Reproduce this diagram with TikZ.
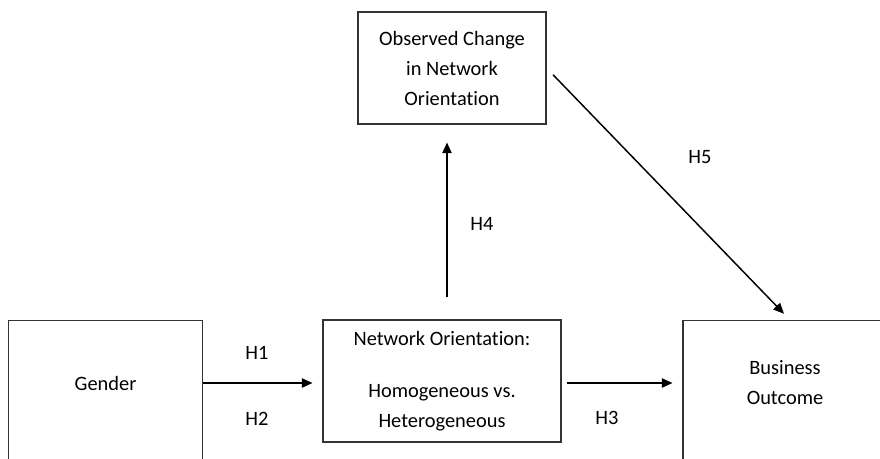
\documentclass[tikz,border=0pt]{standalone}
\usepackage{fontspec}
\setmainfont{Carlito}[Ligatures=NoCommon]
\usepackage{tikz}
\usetikzlibrary{arrows.meta}
\tikzset{
  quadro/.style={draw=black!80, line width=0.8pt, align=center, inner sep=0pt, minimum width=#1},
  quadro/.default=140pt,
  texto/.style={align=center, font=\fontsize{15.3pt}{22.5pt}\selectfont},
  flecha/.style={-{Triangle[length=8pt, width=7pt]}, line width=1.1pt},
}

\begin{document}
\begin{tikzpicture}[x=0.75pt, y=-0.75pt]
  \clip (0,0) rectangle (880,458);
  \node[quadro=146pt, minimum height=128pt, anchor=north] (gender) at (105.5,320) {};
  \node[texto] (gendertxt) at (105.5,383) {Gender};
  \node[quadro=178.5pt, minimum height=91.5pt, texto] (network) at (442,381) {Network Orientation:\\[16.5pt]Homogeneous vs.\\Heterogeneous};
  \node[quadro=141pt, minimum height=84pt, texto] (observed) at (452,68) {Observed Change\\in Network\\Orientation};
  \node[quadro=160.5pt, minimum height=128pt, anchor=north] (business) at (790,320) {};
  \node[texto] (businesstxt) at (785,382.5) {Business\\Outcome};

  \draw[flecha, shorten >=7.5pt] (gender.east |- gendertxt) -- (network.west |- gendertxt);
  \draw[flecha, shorten <=3.75pt, shorten >=7.5pt] (network.east |- gendertxt) -- (business.west |- gendertxt);
  \draw[flecha, shorten <=16.5pt, shorten >=13.5pt] ([xshift=3.75pt]network.north) -- ([xshift=3.75pt]network.north |- observed.south);
  \draw[flecha, shorten <=7pt, shorten >=6.5pt] (observed.east) -- (business.north);

  % hypothesis labels
  \node[texto] (h1) at (257,353) {H1};
  \node[texto] (h2) at (257,419) {H2};
  \node[texto] (h3) at (607,418) {H3};
  \node[texto] (h4) at (482,224) {H4};
  \node[texto] (h5) at (700,157) {H5};
\end{tikzpicture}
\end{document}
